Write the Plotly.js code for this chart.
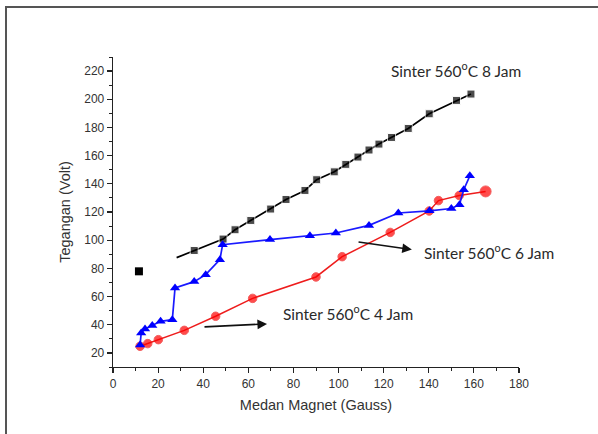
<!DOCTYPE html>
<html><head><meta charset="utf-8">
<script src="https://cdn.plot.ly/plotly-3.0.1.min.js"></script>
<style>
html,body{margin:0;padding:0;background:#fff;}
#chart{width:598px;height:434px;position:absolute;left:0;top:0;}
#frame{position:absolute;left:5px;top:6px;width:620px;height:460px;border-left:2px solid #555;border-top:2px solid #555;pointer-events:none;}
</style></head>
<body>
<div id="chart"></div>
<div id="frame"></div>
<script>
// Sinter 560°C 8 Jam (black squares)
const x8_single = [11.5];
const y8_single = [77.9];
const x8 = [28.2, 36.0, 48.8, 54.1, 61.1, 69.9, 76.7, 85.1, 90.3, 98.1, 103.2, 108.6, 113.5, 117.9, 123.5, 130.9, 140.2, 152.3, 158.7];
const y8 = [87.6, 92.7, 100.8, 107.4, 114.0, 122.1, 128.9, 135.3, 142.9, 148.5, 153.8, 159.0, 164.0, 168.2, 172.9, 179.3, 189.7, 199.2, 203.7];
// Sinter 560°C 6 Jam (blue triangles)
const x6 = [12.0, 12.5, 14.2, 17.4, 21.1, 26.3, 27.5, 36.0, 41.1, 47.4, 48.6, 69.6, 87.3, 98.8, 113.5, 126.5, 140.3, 150.0, 153.6, 155.5, 158.2];
const y6 = [25.6, 34.2, 37.0, 39.4, 42.4, 43.6, 66.1, 70.6, 75.5, 86.2, 96.8, 100.4, 103.2, 105.1, 110.5, 119.3, 120.8, 122.5, 125.2, 135.8, 145.7];
// Sinter 560°C 4 Jam (red circles)
const x4 = [12.0, 15.4, 20.1, 31.6, 45.5, 61.9, 90.0, 101.6, 122.9, 140.2, 144.3, 153.5, 165.2];
const y4 = [24.7, 26.6, 29.4, 36.0, 46.0, 58.7, 73.9, 88.3, 105.5, 120.7, 128.1, 131.7, 134.6];

const labels = ["Sinter 560<sup>o</sup>C 8 Jam", "Sinter 560<sup>o</sup>C 6 Jam", "Sinter 560<sup>o</sup>C 4 Jam"];

const sq8 = x8.map((v,i)=> i===0 ? 0 : 8);
const c4 = x4.map((v,i)=> i===x4.length-1 ? 11 : 8.5);

const traces = [
  {x:x8_single, y:y8_single, mode:'markers', type:'scatter', marker:{symbol:'square', size:8, color:'#000'}, cliponaxis:false},
  {x:x8, y:y8, mode:'lines+markers', type:'scatter', line:{color:'#000', width:1.7}, marker:{symbol:'square', size:sq8, color:'#000'}, cliponaxis:false},
  {x:x4, y:y4, mode:'lines+markers', type:'scatter', line:{color:'#ee1c1c', width:1.5}, marker:{symbol:'circle', size:c4, color:'#ff0000'}, cliponaxis:false},
  {x:x6, y:y6, mode:'lines+markers', type:'scatter', line:{color:'#1a1aff', width:1.7}, marker:{symbol:'triangle-up', size:9, color:'#0000ff'}, cliponaxis:false}
];

const tickFont = {family:'"Liberation Sans", Arial, sans-serif', size:12, color:'#333'};
const titleFont = {family:'"Liberation Sans", Arial, sans-serif', size:14.5, color:'#333'};
const annFont = {family:'Lato, "Open Sans", sans-serif', size:15.5, color:'#2a2a2a'};

const layout = {
  width:598, height:434,
  margin:{l:113, r:79, t:57, b:67},
  paper_bgcolor:'#fff', plot_bgcolor:'#fff',
  showlegend:false,
  xaxis:{
    range:[0,180], tick0:0, dtick:20, ticks:'outside', ticklen:5, tickwidth:1.2, tickcolor:'#222',
    showline:true, linecolor:'#222', linewidth:1.3, showgrid:false, zeroline:false,
    tickfont:tickFont,
    minor:{dtick:10, ticks:'outside', ticklen:3, tickwidth:1, tickcolor:'#222', showgrid:false},
    title:{text:'Medan Magnet (Gauss)', font:titleFont, standoff:10}
  },
  yaxis:{
    range:[10,230], tick0:0, dtick:20, ticks:'outside', ticklen:5, tickwidth:1.2, tickcolor:'#222',
    showline:true, linecolor:'#222', linewidth:1.3, showgrid:false, zeroline:false,
    tickfont:tickFont,
    minor:{dtick:10, ticks:'outside', ticklen:3, tickwidth:1, tickcolor:'#222', showgrid:false},
    title:{text:'Tegangan (Volt)', font:titleFont, standoff:10}
  },
  annotations:[
    {x:122.3, y:220.9, xref:'x', yref:'y', xanchor:'left', text:labels[0], showarrow:false, font:annFont},
    {x:136.8, y:91.8, xref:'x', yref:'y', xanchor:'left', text:labels[1], showarrow:false, font:annFont},
    {x:74.5, y:48.6, xref:'x', yref:'y', xanchor:'left', text:labels[2], showarrow:false, font:annFont},
    {x:132.5, y:93.3, ax:108.2, ay:98.9, xref:'x', yref:'y', axref:'x', ayref:'y', text:'', showarrow:true, arrowhead:2, arrowsize:1.2, arrowwidth:1.6, arrowcolor:'#111'},
    {x:68.3, y:40.6, ax:39.9, ay:38.4, xref:'x', yref:'y', axref:'x', ayref:'y', text:'', showarrow:true, arrowhead:2, arrowsize:1.2, arrowwidth:1.6, arrowcolor:'#111'}
  ]
};

Plotly.newPlot('chart', traces, layout, {displayModeBar:false, staticPlot:true});
</script>
</body></html>
